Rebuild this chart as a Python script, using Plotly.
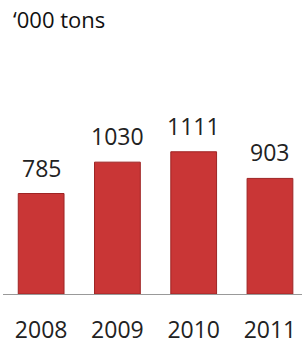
import plotly.graph_objects as go

years = ["2008", "2009", "2010", "2011"]
values = [785, 1030, 1111, 903]
value_labels = ["785", "1030", "1111", "903"]
unit_label = "\u2018000 tons"

FONT = "Open Sans"

fig = go.Figure()
fig.add_trace(go.Bar(
    x=years, y=values, width=0.6,
    marker=dict(color="#c93636", line=dict(color="#9e2424", width=1)),
    hoverinfo="skip",
))

for i, (v, lab) in enumerate(zip(values, value_labels)):
    fig.add_annotation(x=i, y=v, xref="x", yref="y", text=lab, showarrow=False,
                       yanchor="bottom", yshift=8,
                       font=dict(family=FONT, size=23, color="#222222"))

fig.add_annotation(xref="paper", yref="paper", x=0, y=1, yshift=58, xshift=8,
                   xanchor="left", yanchor="top", text=unit_label,
                   showarrow=False, font=dict(family=FONT, size=22, color="#111111"))

fig.update_layout(
    width=302, height=342,
    margin=dict(l=3, r=0, t=60, b=48, autoexpand=False),
    paper_bgcolor="white", plot_bgcolor="white",
    showlegend=False,
    xaxis=dict(type="category", range=[-0.5, 3.42], showline=True,
               linecolor="#999999", linewidth=1, showgrid=False,
               ticks="", ticklabelstandoff=15,
               tickfont=dict(family=FONT, size=23, color="#222222")),
    yaxis=dict(range=[0, 1828], visible=False, showgrid=False),
)

fig.write_html("out.html", config={"displayModeBar": False, "staticPlot": True},
               post_script="document.body.style.margin='0';")
